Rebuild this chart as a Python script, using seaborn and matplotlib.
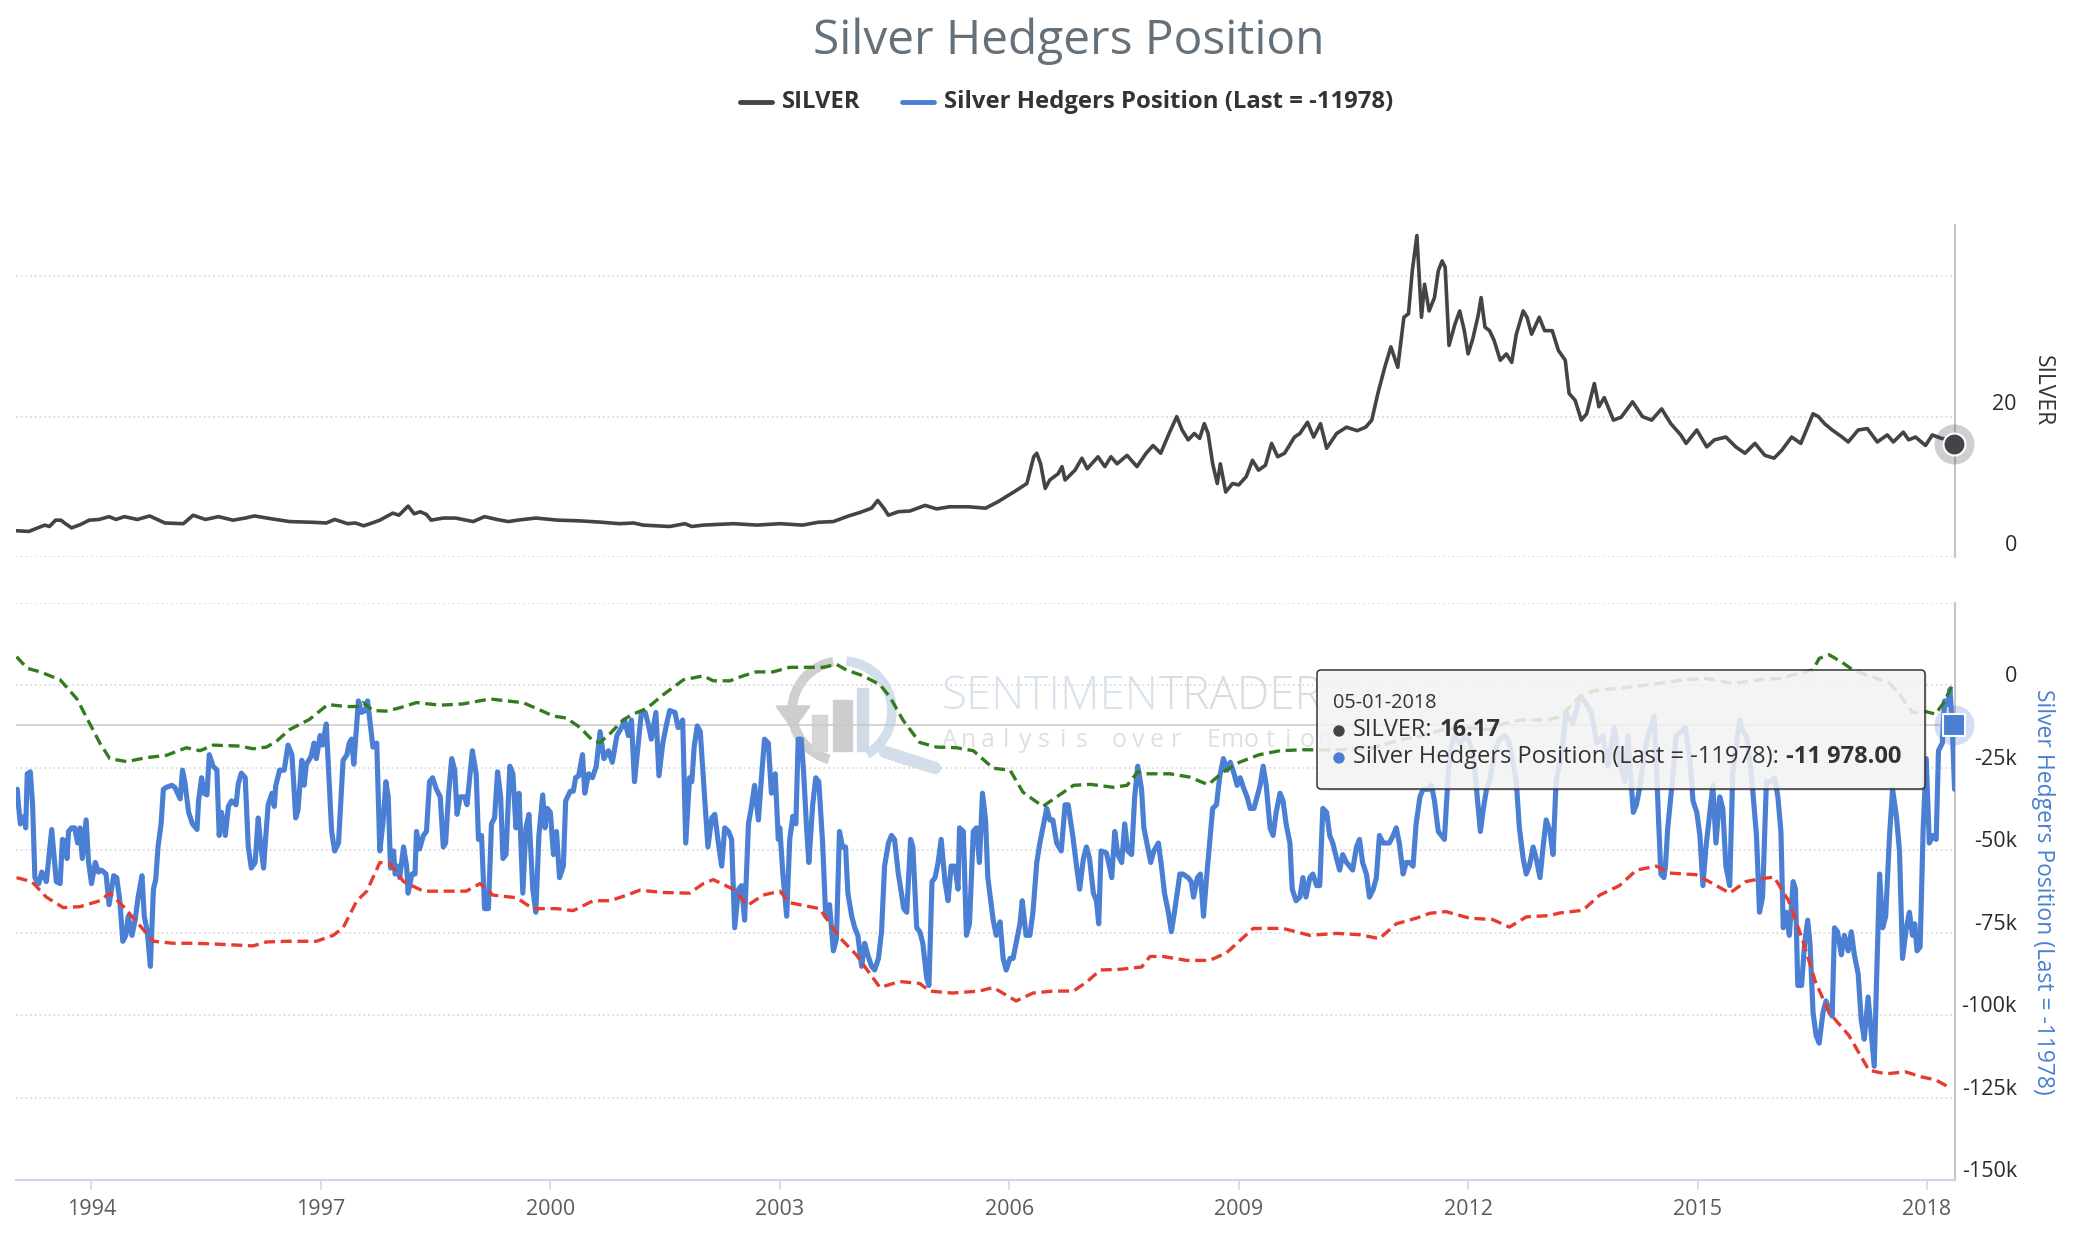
import matplotlib
matplotlib.use("Agg")
import matplotlib.pyplot as plt
import seaborn as sns
import pandas as pd
from matplotlib.transforms import IdentityTransform, ScaledTranslation
from matplotlib.patches import FancyBboxPatch, Circle, Rectangle, Arc, Polygon
from matplotlib.lines import Line2D

# ---------------- data ----------------
silver_years = [1993.01, 1993.18, 1993.39, 1993.45, 1993.53, 1993.60, 1993.66, 1993.74, 1993.86, 1993.97,
                1994.10, 1994.23, 1994.32, 1994.43, 1994.60, 1994.76, 1994.96, 1995.20, 1995.33, 1995.49,
                1995.66, 1995.85, 1996.01, 1996.13, 1996.35, 1996.59, 1996.89, 1997.07, 1997.18, 1997.35,
                1997.45, 1997.56, 1997.67, 1997.77, 1997.94, 1998.02, 1998.14, 1998.22, 1998.30, 1998.38,
                1998.44, 1998.60, 1998.76, 1998.99, 1999.14, 1999.30, 1999.45, 1999.57, 1999.81, 2000.10,
                2000.39, 2000.68, 2000.90, 2001.09, 2001.21, 2001.38, 2001.56, 2001.76, 2001.85, 2002.00,
                2002.40, 2002.70, 2003.00, 2003.30, 2003.50, 2003.70, 2003.90, 2004.05, 2004.20, 2004.28,
                2004.36, 2004.42, 2004.55, 2004.70, 2004.90, 2005.05, 2005.22, 2005.47, 2005.69, 2005.85,
                2006.06, 2006.23, 2006.32, 2006.36, 2006.41, 2006.47, 2006.53, 2006.64, 2006.69, 2006.73,
                2006.86, 2006.95, 2007.02, 2007.16, 2007.25, 2007.33, 2007.41, 2007.54, 2007.67, 2007.79,
                2007.88, 2007.98, 2008.09, 2008.19, 2008.26, 2008.34, 2008.42, 2008.49, 2008.55, 2008.60,
                2008.66, 2008.72, 2008.76, 2008.83, 2008.92, 2009.00, 2009.10, 2009.18, 2009.26, 2009.35,
                2009.43, 2009.51, 2009.60, 2009.73, 2009.80, 2009.90, 2009.98, 2010.07, 2010.15, 2010.28,
                2010.41, 2010.55, 2010.66, 2010.74, 2010.82, 2010.91, 2010.99, 2011.08, 2011.16, 2011.22,
                2011.27, 2011.33, 2011.39, 2011.43, 2011.49, 2011.56, 2011.61, 2011.66, 2011.70, 2011.75,
                2011.83, 2011.89, 2011.95, 2012.00, 2012.06, 2012.13, 2012.17, 2012.22, 2012.28, 2012.34,
                2012.42, 2012.50, 2012.57, 2012.63, 2012.72, 2012.77, 2012.83, 2012.93, 2013.00, 2013.10,
                2013.18, 2013.27, 2013.32, 2013.40, 2013.48, 2013.55, 2013.65, 2013.71, 2013.78, 2013.90,
                2014.00, 2014.15, 2014.28, 2014.40, 2014.53, 2014.65, 2014.78, 2014.85, 2014.99, 2015.12,
                2015.22, 2015.37, 2015.50, 2015.62, 2015.75, 2015.88, 2016.00, 2016.10, 2016.23, 2016.35,
                2016.51, 2016.58, 2016.66, 2016.76, 2016.89, 2016.97, 2017.10, 2017.22, 2017.35, 2017.48,
                2017.56, 2017.69, 2017.76, 2017.85, 2017.98, 2018.07, 2018.19, 2018.32, 2018.35]
silver_price = [3.8, 3.7, 4.6, 4.4, 5.3, 5.3, 4.8, 4.2, 4.7, 5.3,
                5.4, 5.8, 5.4, 5.8, 5.4, 5.9, 4.9, 4.8, 6.0, 5.4,
                5.8, 5.3, 5.6, 5.9, 5.5, 5.1, 5.0, 4.9, 5.4, 4.8,
                4.9, 4.5, 4.9, 5.3, 6.3, 6.0, 7.3, 6.2, 6.5, 6.1,
                5.3, 5.6, 5.6, 5.1, 5.8, 5.4, 5.1, 5.3, 5.6, 5.3,
                5.2, 5.0, 4.8, 4.9, 4.6, 4.5, 4.4, 4.8, 4.4, 4.6,
                4.8, 4.6, 4.8, 4.6, 5.0, 5.1, 5.9, 6.4, 7.0, 8.1,
                7.0, 6.0, 6.5, 6.6, 7.4, 6.9, 7.2, 7.2, 7.0, 7.9,
                9.3, 10.5, 14.3, 14.8, 13.3, 9.8, 11.0, 11.9, 12.9, 11.0,
                12.4, 14.1, 12.6, 14.3, 12.9, 14.3, 13.3, 14.5, 12.9, 14.8,
                15.9, 14.8, 17.6, 20.0, 18.1, 16.7, 17.6, 16.9, 19.0, 17.6,
                13.3, 10.5, 13.3, 9.3, 10.5, 10.3, 11.5, 13.8, 12.4, 13.1,
                16.2, 14.3, 14.8, 17.1, 17.6, 19.2, 17.1, 19.0, 15.5, 17.6,
                18.5, 18.0, 18.5, 19.5, 23.3, 27.0, 29.9, 27.0, 34.1, 34.6,
                40.7, 45.7, 34.1, 38.8, 35.0, 36.9, 40.7, 42.1, 41.2, 30.1,
                33.2, 35.0, 32.2, 28.9, 31.0, 34.3, 36.9, 32.7, 32.2, 30.8,
                28.0, 28.9, 27.7, 31.7, 35.0, 34.1, 31.7, 34.1, 32.2, 32.2,
                29.4, 28.0, 23.3, 22.3, 19.5, 20.4, 24.7, 21.4, 22.7, 19.5,
                19.9, 22.1, 20.0, 19.5, 21.1, 19.0, 17.4, 16.2, 18.1, 15.7,
                16.7, 17.1, 15.7, 14.8, 16.2, 14.5, 14.1, 15.2, 17.1, 16.2,
                20.4, 20.0, 19.0, 18.1, 17.1, 16.4, 18.1, 18.3, 16.4, 17.4,
                16.4, 17.8, 16.7, 17.1, 15.9, 17.4, 16.9, 16.7, 16.2]

hedger_years = [1993.03, 1993.04, 1993.07, 1993.12, 1993.14, 1993.16, 1993.20, 1993.23, 1993.26, 1993.31,
                1993.35, 1993.41, 1993.48, 1993.54, 1993.59, 1993.62, 1993.65, 1993.68, 1993.70, 1993.74,
                1993.78, 1993.82, 1993.85, 1993.88, 1993.93, 1993.96, 1994.00, 1994.05, 1994.09, 1994.13,
                1994.19, 1994.23, 1994.29, 1994.33, 1994.37, 1994.41, 1994.45, 1994.48, 1994.53, 1994.57,
                1994.61, 1994.66, 1994.69, 1994.73, 1994.77, 1994.81, 1994.84, 1994.87, 1994.91, 1994.94,
                1994.98, 1995.05, 1995.09, 1995.16, 1995.19, 1995.22, 1995.27, 1995.32, 1995.38, 1995.40,
                1995.44, 1995.47, 1995.51, 1995.54, 1995.59, 1995.64, 1995.67, 1995.70, 1995.75, 1995.79,
                1995.83, 1995.89, 1995.92, 1995.96, 1996.01, 1996.05, 1996.09, 1996.14, 1996.18, 1996.21,
                1996.25, 1996.28, 1996.31, 1996.36, 1996.39, 1996.41, 1996.46, 1996.52, 1996.57, 1996.62,
                1996.64, 1996.67, 1996.70, 1996.75, 1996.78, 1996.81, 1996.87, 1996.91, 1996.94, 1996.99,
                1997.02, 1997.07, 1997.10, 1997.14, 1997.18, 1997.23, 1997.26, 1997.29, 1997.34, 1997.37,
                1997.40, 1997.43, 1997.49, 1997.53, 1997.58, 1997.61, 1997.65, 1997.68, 1997.73, 1997.77,
                1997.81, 1997.85, 1997.88, 1997.91, 1997.95, 1997.97, 1998.01, 1998.03, 1998.08, 1998.12,
                1998.14, 1998.19, 1998.23, 1998.25, 1998.29, 1998.34, 1998.38, 1998.42, 1998.46, 1998.51,
                1998.56, 1998.60, 1998.63, 1998.67, 1998.71, 1998.75, 1998.78, 1998.82, 1998.88, 1998.91,
                1998.95, 1998.98, 1999.03, 1999.06, 1999.10, 1999.14, 1999.19, 1999.23, 1999.27, 1999.31,
                1999.35, 1999.38, 1999.42, 1999.47, 1999.51, 1999.55, 1999.59, 1999.64, 1999.68, 1999.72,
                1999.77, 1999.81, 1999.85, 1999.90, 1999.93, 1999.96, 2000.00, 2000.04, 2000.08, 2000.12,
                2000.17, 2000.20, 2000.26, 2000.30, 2000.33, 2000.37, 2000.42, 2000.45, 2000.50, 2000.55,
                2000.60, 2000.65, 2000.70, 2000.76, 2000.81, 2000.87, 2000.93, 2000.97, 2001.02, 2001.06,
                2001.10, 2001.15, 2001.19, 2001.24, 2001.28, 2001.32, 2001.38, 2001.42, 2001.47, 2001.52,
                2001.56, 2001.63, 2001.67, 2001.73, 2001.77, 2001.82, 2001.85, 2001.88, 2001.92, 2001.96,
                2002.02, 2002.06, 2002.11, 2002.15, 2002.19, 2002.24, 2002.28, 2002.33, 2002.37, 2002.41,
                2002.46, 2002.50, 2002.54, 2002.59, 2002.63, 2002.67, 2002.72, 2002.76, 2002.80, 2002.85,
                2002.89, 2002.94, 2002.98, 2003.00, 2003.04, 2003.09, 2003.13, 2003.17, 2003.21, 2003.24,
                2003.28, 2003.31, 2003.35, 2003.38, 2003.43, 2003.47, 2003.51, 2003.56, 2003.60, 2003.65,
                2003.70, 2003.74, 2003.78, 2003.82, 2003.86, 2003.89, 2003.94, 2003.98, 2004.02, 2004.07,
                2004.11, 2004.15, 2004.20, 2004.24, 2004.29, 2004.33, 2004.37, 2004.42, 2004.46, 2004.50,
                2004.55, 2004.59, 2004.62, 2004.66, 2004.71, 2004.74, 2004.79, 2004.83, 2004.87, 2004.92,
                2004.95, 2004.99, 2005.03, 2005.07, 2005.11, 2005.16, 2005.20, 2005.24, 2005.29, 2005.33,
                2005.35, 2005.40, 2005.44, 2005.48, 2005.53, 2005.57, 2005.61, 2005.65, 2005.69, 2005.72,
                2005.79, 2005.83, 2005.88, 2005.92, 2005.96, 2006.01, 2006.05, 2006.09, 2006.14, 2006.17,
                2006.22, 2006.27, 2006.31, 2006.36, 2006.40, 2006.44, 2006.49, 2006.53, 2006.57, 2006.62,
                2006.68, 2006.73, 2006.77, 2006.83, 2006.88, 2006.92, 2006.97, 2007.01, 2007.05, 2007.10,
                2007.14, 2007.17, 2007.20, 2007.27, 2007.31, 2007.34, 2007.38, 2007.42, 2007.47, 2007.51,
                2007.55, 2007.60, 2007.64, 2007.68, 2007.73, 2007.76, 2007.80, 2007.85, 2007.89, 2007.95,
                2007.99, 2008.03, 2008.08, 2008.12, 2008.16, 2008.21, 2008.23, 2008.27, 2008.34, 2008.38,
                2008.41, 2008.46, 2008.50, 2008.54, 2008.58, 2008.62, 2008.66, 2008.71, 2008.75, 2008.80,
                2008.85, 2008.89, 2008.94, 2008.98, 2009.02, 2009.07, 2009.11, 2009.15, 2009.20, 2009.24,
                2009.28, 2009.32, 2009.36, 2009.41, 2009.45, 2009.49, 2009.54, 2009.58, 2009.62, 2009.67,
                2009.70, 2009.75, 2009.80, 2009.84, 2009.88, 2009.93, 2009.97, 2010.02, 2010.06, 2010.10,
                2010.15, 2010.19, 2010.23, 2010.28, 2010.32, 2010.36, 2010.41, 2010.45, 2010.49, 2010.54,
                2010.58, 2010.62, 2010.67, 2010.71, 2010.76, 2010.80, 2010.84, 2010.89, 2010.93, 2010.97,
                2011.02, 2011.06, 2011.10, 2011.15, 2011.19, 2011.23, 2011.28, 2011.32, 2011.37, 2011.41,
                2011.48, 2011.52, 2011.56, 2011.61, 2011.65, 2011.69, 2011.74, 2011.78, 2011.82, 2011.89,
                2011.98, 2012.06, 2012.11, 2012.16, 2012.20, 2012.24, 2012.28, 2012.35, 2012.41, 2012.48,
                2012.54, 2012.63, 2012.67, 2012.72, 2012.76, 2012.80, 2012.85, 2012.89, 2012.94, 2012.98,
                2013.02, 2013.07, 2013.11, 2013.15, 2013.20, 2013.24, 2013.28, 2013.37, 2013.46, 2013.52,
                2013.61, 2013.68, 2013.76, 2013.83, 2013.91, 2013.98, 2014.05, 2014.09, 2014.13, 2014.16,
                2014.20, 2014.24, 2014.31, 2014.37, 2014.43, 2014.46, 2014.49, 2014.52, 2014.56, 2014.58,
                2014.61, 2014.64, 2014.68, 2014.72, 2014.79, 2014.84, 2014.90, 2014.94, 2014.99, 2015.03,
                2015.07, 2015.11, 2015.16, 2015.20, 2015.24, 2015.29, 2015.33, 2015.37, 2015.42, 2015.46,
                2015.51, 2015.55, 2015.59, 2015.64, 2015.68, 2015.72, 2015.77, 2015.81, 2015.85, 2015.90,
                2015.95, 2016.01, 2016.05, 2016.09, 2016.12, 2016.16, 2016.20, 2016.25, 2016.28, 2016.31,
                2016.36, 2016.40, 2016.44, 2016.47, 2016.51, 2016.55, 2016.59, 2016.64, 2016.68, 2016.73,
                2016.76, 2016.79, 2016.83, 2016.88, 2016.92, 2016.97, 2017.01, 2017.05, 2017.10, 2017.14,
                2017.18, 2017.23, 2017.27, 2017.31, 2017.34, 2017.38, 2017.42, 2017.46, 2017.51, 2017.55,
                2017.60, 2017.64, 2017.68, 2017.73, 2017.77, 2017.81, 2017.84, 2017.87, 2017.91, 2017.95,
                2017.99, 2018.03, 2018.08, 2018.12, 2018.15, 2018.20, 2018.23, 2018.27, 2018.30, 2018.33,
                2018.36]
hedger_k = [-31.5, -35.0, -42.0, -39.7, -43.2, -26.8, -26.2, -36.2, -58.3, -60.1,
            -56.6, -59.5, -43.7, -59.5, -60.1, -46.7, -47.2, -52.5, -44.3, -43.2,
            -43.2, -47.8, -43.2, -52.5, -40.8, -53.1, -60.1, -53.7, -56.6, -56.0,
            -57.2, -66.5, -57.7, -58.3, -65.3, -77.6, -75.8, -70.0, -75.8, -71.2,
            -64.2, -57.7, -70.0, -74.7, -85.2, -61.8, -58.9, -49.0, -42.0, -31.5,
            -30.9, -30.3, -30.9, -34.4, -25.7, -29.2, -38.5, -42.0, -43.7, -35.0,
            -28.0, -32.7, -33.2, -21.0, -24.5, -25.7, -45.5, -38.5, -45.5, -36.7,
            -35.0, -36.2, -29.7, -26.6, -28.0, -49.0, -55.4, -53.7, -40.2, -47.8,
            -55.4, -45.5, -36.2, -32.7, -36.7, -30.3, -25.7, -25.7, -18.1, -21.0,
            -28.0, -40.2, -37.9, -22.7, -30.3, -23.9, -21.6, -17.5, -22.2, -15.2,
            -18.1, -11.7, -25.7, -44.3, -50.2, -47.8, -35.0, -22.7, -21.0, -17.5,
            -16.3, -23.9, -4.7, -8.2, -7.6, -4.7, -12.8, -18.7, -17.5, -50.2,
            -42.0, -29.2, -33.8, -55.4, -50.2, -57.2, -54.8, -58.3, -49.0, -54.8,
            -63.0, -57.2, -57.2, -44.3, -49.6, -45.5, -44.3, -29.2, -28.0, -31.5,
            -33.8, -49.0, -47.8, -32.7, -22.2, -25.7, -39.1, -33.8, -33.8, -36.2,
            -26.8, -19.8, -26.8, -46.7, -45.5, -67.7, -67.7, -42.0, -40.2, -26.2,
            -33.8, -52.5, -51.3, -24.5, -26.8, -43.2, -32.7, -63.0, -43.2, -39.1,
            -61.8, -68.8, -45.5, -33.2, -43.2, -37.3, -38.5, -51.3, -44.3, -58.3,
            -54.8, -35.0, -32.1, -32.1, -28.0, -27.4, -21.0, -32.7, -26.8, -28.0,
            -24.5, -14.0, -22.2, -19.8, -23.3, -15.2, -12.8, -10.5, -15.2, -10.5,
            -29.2, -17.5, -8.2, -8.2, -11.7, -16.3, -8.2, -27.4, -17.5, -11.7,
            -7.6, -8.2, -12.8, -10.5, -47.8, -28.0, -29.2, -18.7, -12.3, -14.0,
            -35.0, -49.0, -40.2, -39.1, -46.7, -54.8, -43.2, -44.3, -46.7, -73.5,
            -61.8, -60.7, -71.2, -42.0, -36.7, -30.3, -40.8, -28.0, -16.3, -17.5,
            -32.7, -26.8, -46.7, -43.2, -57.2, -70.0, -46.7, -39.7, -42.0, -16.3,
            -16.3, -25.7, -43.2, -53.7, -36.2, -28.0, -29.2, -47.8, -70.0, -66.5,
            -80.5, -77.0, -44.3, -49.0, -49.0, -63.0, -70.0, -73.5, -75.8, -85.2,
            -78.2, -81.7, -85.2, -86.3, -82.8, -74.7, -54.8, -47.8, -45.5, -46.7,
            -57.2, -63.0, -67.7, -68.8, -46.7, -49.0, -73.5, -74.7, -78.2, -88.7,
            -91.0, -59.5, -58.3, -53.7, -46.7, -59.5, -65.3, -54.8, -54.8, -61.8,
            -43.2, -44.3, -75.8, -72.3, -44.3, -43.2, -53.7, -32.7, -40.8, -58.3,
            -71.2, -75.8, -71.7, -82.8, -86.3, -82.8, -82.8, -78.2, -72.3, -65.3,
            -75.8, -75.8, -68.8, -53.7, -47.8, -43.2, -37.3, -40.8, -40.8, -47.8,
            -50.2, -36.2, -36.2, -45.5, -54.8, -61.8, -52.5, -49.0, -52.5, -63.0,
            -65.3, -72.3, -50.2, -50.8, -54.8, -58.3, -44.3, -51.3, -53.7, -42.0,
            -50.2, -51.3, -33.8, -24.5, -31.5, -43.2, -47.8, -53.7, -50.2, -47.8,
            -54.8, -63.0, -68.8, -74.7, -68.8, -60.7, -57.2, -57.2, -58.3, -59.5,
            -64.2, -58.3, -57.2, -70.0, -58.3, -47.8, -37.3, -36.2, -28.0, -22.2,
            -25.7, -23.3, -26.8, -30.3, -28.0, -31.5, -33.8, -37.3, -37.3, -33.8,
            -30.3, -24.5, -30.3, -43.2, -45.5, -38.5, -32.7, -35.0, -42.0, -47.8,
            -61.8, -65.3, -64.2, -58.3, -64.2, -58.3, -57.2, -60.7, -60.7, -37.3,
            -38.5, -45.5, -47.8, -52.5, -56.0, -51.3, -53.7, -54.8, -56.0, -49.0,
            -46.7, -53.7, -57.2, -64.2, -61.8, -58.3, -45.5, -47.8, -47.8, -47.8,
            -45.5, -43.2, -47.8, -57.2, -53.7, -53.7, -54.8, -42.0, -33.8, -31.5,
            -31.5, -30.3, -35.0, -44.3, -45.5, -46.7, -26.8, -18.7, -15.2, -17.5,
            -15.2, -19.8, -31.5, -44.3, -37.3, -31.5, -29.2, -19.8, -16.3, -15.2,
            -17.5, -29.2, -43.2, -52.5, -57.2, -54.8, -49.0, -52.5, -58.3, -49.0,
            -40.8, -44.3, -51.3, -29.2, -23.3, -17.5, -8.2, -11.7, -3.5, -4.7,
            -8.2, -17.5, -15.2, -24.5, -12.8, -23.3, -29.2, -15.2, -29.2, -38.5,
            -36.2, -31.5, -19.8, -14.0, -9.3, -23.3, -40.8, -57.2, -58.3, -54.8,
            -43.2, -36.2, -26.8, -15.2, -14.0, -12.8, -22.2, -35.0, -38.5, -45.5,
            -60.7, -49.0, -38.5, -30.3, -47.8, -33.8, -37.3, -54.8, -60.7, -26.8,
            -17.5, -10.5, -14.0, -15.2, -22.2, -31.5, -45.5, -68.8, -64.2, -29.2,
            -29.2, -28.0, -33.8, -44.3, -73.5, -68.8, -75.8, -59.5, -61.8, -91.0,
            -91.0, -78.2, -71.2, -78.2, -99.2, -106.2, -108.5, -99.2, -95.7, -99.2,
            -100.3, -73.5, -74.7, -81.7, -75.8, -80.5, -74.7, -81.7, -87.5, -101.5,
            -107.3, -94.5, -105.0, -115.5, -89.8, -57.2, -73.5, -70.0, -45.5, -31.5,
            -39.7, -50.2, -82.8, -73.5, -68.8, -75.8, -72.3, -80.5, -79.3, -43.2,
            -22.2, -47.8, -45.5, -46.7, -19.8, -17.5, -4.7, -5.8, -1.2, -12.0,
            -31.5]

upper_years = [1993.02, 1993.16, 1993.33, 1993.59, 1993.81, 1993.98, 1994.11, 1994.24, 1994.46, 1994.72,
               1994.98, 1995.24, 1995.42, 1995.59, 1995.94, 1996.11, 1996.29, 1996.42, 1996.59, 1996.85,
               1997.09, 1997.33, 1997.50, 1997.55, 1997.68, 1997.85, 1998.03, 1998.25, 1998.56, 1998.86,
               1999.21, 1999.51, 1999.64, 1999.82, 2000.04, 2000.21, 2000.39, 2000.56, 2000.65, 2000.78,
               2000.95, 2001.08, 2001.26, 2001.47, 2001.74, 2002.00, 2002.13, 2002.35, 2002.52, 2002.69,
               2002.91, 2003.13, 2003.57, 2003.74, 2003.87, 2004.09, 2004.31, 2004.44, 2004.61, 2004.83,
               2005.05, 2005.31, 2005.53, 2005.79, 2006.01, 2006.18, 2006.44, 2006.62, 2006.84, 2007.06,
               2007.36, 2007.54, 2007.68, 2007.79, 2008.10, 2008.36, 2008.60, 2008.80, 2009.01, 2009.27,
               2009.54, 2009.84, 2010.20, 2010.71, 2011.15, 2011.41, 2011.67, 2011.98, 2012.28, 2012.45,
               2012.68, 2013.03, 2013.20, 2013.46, 2013.63, 2014.07, 2014.50, 2014.81, 2015.11, 2015.46,
               2015.81, 2016.07, 2016.33, 2016.51, 2016.59, 2016.72, 2016.89, 2017.03, 2017.24, 2017.50,
               2017.63, 2017.81, 2017.98, 2018.11, 2018.22, 2018.33]
upper_k = [8.7, 5.2, 4.1, 1.7, -4.1, -11.7, -17.5, -22.2, -23.1, -21.9,
           -21.2, -18.9, -19.8, -18.1, -18.4, -19.2, -18.7, -16.9, -13.4, -10.3,
           -5.8, -6.4, -6.4, -5.2, -7.6, -7.8, -6.8, -5.2, -6.0, -5.6,
           -4.1, -4.9, -5.2, -7.0, -9.3, -9.9, -12.8, -16.9, -17.3, -14.6,
           -10.5, -8.7, -7.0, -2.9, 1.7, 2.9, 1.4, 1.4, 2.9, 4.1,
           4.1, 5.5, 5.5, 6.4, 4.7, 2.9, 0.2, -3.5, -10.5, -17.3,
           -18.7, -18.9, -19.8, -25.1, -25.7, -32.4, -36.7, -33.8, -30.3, -30.0,
           -30.9, -30.3, -26.2, -26.8, -26.8, -27.8, -30.1, -26.2, -23.3, -21.0,
           -19.8, -19.5, -19.6, -19.1, -16.3, -15.2, -13.4, -12.8, -13.4, -11.7,
           -10.5, -10.5, -9.5, -3.5, -1.7, -0.6, 0.6, 1.7, 2.1, 0.6,
           1.7, 2.1, 3.7, 4.7, 8.2, 9.3, 7.0, 4.7, 2.9, 0.9,
           -2.3, -8.2, -7.9, -8.7, -5.2, 0.0]

lower_years = [1993.02, 1993.22, 1993.41, 1993.63, 1993.85, 1994.11, 1994.24, 1994.42, 1994.59, 1994.81,
               1995.07, 1995.33, 1995.59, 1995.85, 1996.11, 1996.29, 1996.55, 1996.94, 1997.16, 1997.29,
               1997.47, 1997.60, 1997.77, 1997.90, 1998.08, 1998.34, 1998.56, 1998.90, 1999.08, 1999.25,
               1999.56, 1999.77, 2000.08, 2000.30, 2000.56, 2000.78, 2001.00, 2001.17, 2001.47, 2001.82,
               2002.00, 2002.13, 2002.39, 2002.58, 2002.78, 2003.00, 2003.13, 2003.52, 2003.78, 2004.00,
               2004.18, 2004.31, 2004.57, 2004.83, 2004.96, 2005.26, 2005.61, 2005.79, 2006.09, 2006.31,
               2006.57, 2006.84, 2007.02, 2007.19, 2007.45, 2007.73, 2007.84, 2008.01, 2008.32, 2008.62,
               2008.84, 2009.19, 2009.58, 2009.93, 2010.28, 2010.58, 2010.84, 2011.06, 2011.32, 2011.50,
               2011.71, 2012.02, 2012.32, 2012.54, 2012.76, 2013.06, 2013.20, 2013.50, 2013.72, 2013.98,
               2014.20, 2014.46, 2014.63, 2014.98, 2015.20, 2015.42, 2015.63, 2015.76, 2016.00, 2016.19,
               2016.37, 2016.54, 2016.72, 2016.98, 2017.24, 2017.46, 2017.72, 2017.94, 2018.11, 2018.29]
lower_k = [-58.3, -59.5, -64.2, -67.4, -67.1, -65.3, -63.0, -67.1, -71.7, -77.6,
           -78.2, -78.2, -78.4, -78.7, -79.0, -77.8, -77.6, -77.6, -75.8, -73.5,
           -65.3, -62.4, -53.7, -54.0, -59.5, -62.4, -62.4, -62.4, -60.1, -63.6,
           -64.4, -67.7, -67.7, -68.3, -65.3, -65.3, -63.6, -62.1, -62.8, -63.0,
           -60.1, -58.9, -61.8, -66.7, -63.6, -62.4, -65.9, -67.7, -76.4, -81.7,
           -87.5, -91.6, -89.8, -90.4, -92.7, -93.3, -92.7, -91.6, -95.7, -93.3,
           -92.7, -92.7, -89.8, -86.3, -86.1, -85.4, -82.2, -82.2, -83.4, -83.4,
           -81.1, -73.7, -73.7, -75.8, -75.2, -75.6, -76.8, -72.3, -70.6, -69.1,
           -68.6, -70.6, -71.0, -73.3, -70.2, -69.8, -69.0, -68.2, -63.6, -60.7,
           -56.0, -54.8, -56.9, -57.4, -60.1, -63.0, -59.5, -58.9, -58.1, -65.3,
           -77.0, -89.8, -99.2, -106.2, -116.7, -117.8, -117.2, -118.8, -119.6, -121.9]

year_ticks = [1994, 1997, 2000, 2003, 2006, 2009, 2012, 2015, 2018]
silver_ticks = [0, 20, 40]
silver_tick_labels = ["0", "20", ""]
hedger_ticks = [-150, -125, -100, -75, -50, -25, 0, 25]
hedger_tick_labels = ["-150k", "-125k", "-100k", "-75k", "-50k", "-25k", "0", ""]

last_date_label = "05-01-2018"
last_year = 2018.35
last_silver = 16.17
last_hedger_k = -11.978

# ---------------- styling ----------------
W, H, DPI = 2079, 1234, 100
SILVER_C = "#434348"
BLUE_C = "#4a7fd4"
GREEN_C = "#347b1f"
RED_C = "#e63b2e"
GRID_C = "#dcdcdc"

sns.set_theme(style="white")
plt.rcParams["font.family"] = ["Open Sans", "DejaVu Sans"]
plt.rcParams["axes.unicode_minus"] = False

fig = plt.figure(figsize=(W / DPI, H / DPI), dpi=DPI)
fig.patch.set_facecolor("white")
ident = IdentityTransform()


def P(x, y):
    return (x, H - y)


L, R = 16, 1955
ax_top = fig.add_axes([L / W, 1 - 557.5 / H, (R - L) / W, (557.5 - 225) / H])
ax_bot = fig.add_axes([L / W, 1 - 1180 / H, (R - L) / W, (1180 - 603) / H])

silver_df = pd.DataFrame({"year": silver_years, "price": silver_price})
hedger_df = pd.DataFrame({"year": hedger_years, "k": hedger_k})
upper_df = pd.DataFrame({"year": upper_years, "k": upper_k})
lower_df = pd.DataFrame({"year": lower_years, "k": lower_k})

sns.lineplot(data=silver_df, x="year", y="price", ax=ax_top, color=SILVER_C, linewidth=2.6,
             estimator=None, sort=False, solid_joinstyle="round", zorder=3)
sns.lineplot(data=hedger_df, x="year", y="k", ax=ax_bot, color=BLUE_C, linewidth=3.7,
             estimator=None, sort=False, solid_joinstyle="round", zorder=3)
sns.lineplot(data=upper_df, x="year", y="k", ax=ax_bot, color=GREEN_C, linewidth=2.4,
             estimator=None, sort=False, zorder=4)
ax_bot.lines[-1].set_dashes([3.3, 1.7])
sns.lineplot(data=lower_df, x="year", y="k", ax=ax_bot, color=RED_C, linewidth=2.4,
             estimator=None, sort=False, zorder=4)
ax_bot.lines[-1].set_dashes([3.3, 1.7])

# crosshair
ax_bot.axhline(last_hedger_k, color="#c8c8c8", linewidth=1.1, zorder=2)

# last-point markers
ax_top.scatter([last_year], [last_silver], s=830, color=SILVER_C, alpha=0.25, linewidths=0,
               zorder=5, clip_on=False)
ax_top.scatter([last_year], [last_silver], s=250, color=SILVER_C, edgecolors="white",
               linewidths=1.5, zorder=6, clip_on=False)
ax_bot.scatter([last_year], [last_hedger_k], s=830, color=BLUE_C, alpha=0.25, linewidths=0,
               zorder=5, clip_on=False)
ax_bot.scatter([last_year], [last_hedger_k], s=240, marker="s", color=BLUE_C, edgecolors="white",
               linewidths=1.5, zorder=6, clip_on=False)

XMIN, XMAX = 1993.013, 2018.366
for ax in (ax_top, ax_bot):
    ax.set_facecolor("none")
    ax.set_xlim(XMIN, XMAX)
    ax.set_xlabel("")
    ax.set_ylabel("")
    ax.set_axisbelow(True)
    ax.yaxis.tick_right()
    ax.grid(False)
    ax.yaxis.grid(True, color=GRID_C, linestyle=(0, (1, 1.6)), linewidth=1.3)
    for s in ("left", "top", "bottom"):
        ax.spines[s].set_visible(False)
    ax.spines["right"].set_visible(True)
    ax.spines["right"].set_color("#c6c6c6")
    ax.spines["right"].set_linewidth(1.5)
    ax.tick_params(axis="y", which="both", length=0, pad=44.6, labelsize=15.5,
                   labelcolor="#2b2b2b", right=True, left=False, labelright=True, labelleft=False)

ax_top.set_ylim(0, 47.2)
ax_top.set_yticks(silver_ticks)
ax_top.set_yticklabels(silver_tick_labels)
ax_top.set_xticks([])

ax_bot.set_ylim(-150, 25)
ax_bot.set_yticks(hedger_ticks)
ax_bot.set_yticklabels(hedger_tick_labels)
ax_bot.set_xticks(year_ticks)
ax_bot.set_xticklabels([str(y) for y in year_ticks])
ax_bot.spines["bottom"].set_visible(True)
ax_bot.spines["bottom"].set_color("#ccd6eb")
ax_bot.spines["bottom"].set_linewidth(1.6)
ax_bot.tick_params(axis="x", length=7, width=1.1, color="#ccd6eb", pad=6.5, labelsize=15.5,
                   labelcolor="#5c5c5c", bottom=True)

for ax, up in ((ax_top, 0.145), (ax_bot, 0.11)):
    shift = ScaledTranslation(0, up, fig.dpi_scale_trans)
    for lbl in ax.get_yticklabels():
        lbl.set_horizontalalignment("right")
        lbl.set_transform(lbl.get_transform() + shift)

# axis titles
fig.text(2043 / W, 1 - 391 / H, "SILVER", rotation=270, ha="center", va="center",
         size=16.5, color="#333333")
fig.text(2043 / W, 1 - 892 / H, "Silver Hedgers Position (Last = -11978)", rotation=270,
         ha="center", va="center", size=16.5, color=BLUE_C)

# title
fig.text(1069 / W, 1 - 41 / H, "Silver Hedgers Position", ha="center", va="center",
         size=34.5, color="#64707a")

# legend
LEG_Y = 102
fig.add_artist(Line2D([740, 772], [H - LEG_Y, H - LEG_Y], transform=ident, color=SILVER_C, lw=3.5))
fig.text(*P(782, LEG_Y), "SILVER", transform=ident, ha="left", va="center", size=17.2,
         weight="bold", color="#333333")
fig.add_artist(Line2D([902, 934], [H - LEG_Y, H - LEG_Y], transform=ident, color=BLUE_C, lw=3.5))
fig.text(*P(944, LEG_Y), "Silver Hedgers Position (Last = -11978)", transform=ident, ha="left",
         va="center", size=17.2, weight="bold", color="#333333")

# watermark (behind the chart)
wm_z = -1
fig.add_artist(Arc(P(842, 711), 100, 100, theta1=100, theta2=255, transform=ident,
                   color="#cfcfcf", lw=7, zorder=wm_z))
fig.add_artist(Arc(P(842, 711), 100, 100, theta1=-60, theta2=85, transform=ident,
                   color="#d2deea", lw=7, zorder=wm_z))
fig.add_artist(Polygon([P(776, 706), P(810, 706), P(793, 730)], closed=True, transform=ident,
                       color="#cdcdcd", zorder=wm_z))
fig.add_artist(Rectangle(P(812, 751), 15, 36, transform=ident, color="#d6d6d6", zorder=wm_z))
fig.add_artist(Rectangle(P(833, 751), 19, 51, transform=ident, color="#cdcdcd", zorder=wm_z))
fig.add_artist(Rectangle(P(857, 751), 11, 63, transform=ident, color="#d0dbe8", zorder=wm_z))
fig.add_artist(Line2D([885, 935], [H - 752, H - 768], transform=ident, color="#d3deea", lw=9,
                      solid_capstyle="round", zorder=wm_z))
t_sent = fig.text(*P(942, 709), "SENTIMEN", transform=ident, ha="left", va="baseline", size=33,
                  color="#d8e2ec", weight="light", zorder=wm_z)
for i, ch in enumerate("Analysis over Emotion"):
    fig.text(*P(950 + i * 18.8, 747), ch, transform=ident, ha="center", va="baseline", size=18,
             color="#e0e0e0", zorder=wm_z)

# tooltip
fig.add_artist(FancyBboxPatch((1319, H - 791), 608, 119,
                              boxstyle="round,pad=0,rounding_size=4", transform=ident,
                              fc=(0, 0, 0, 0.10), ec="none", zorder=9))
fig.add_artist(FancyBboxPatch((1317, H - 789), 608, 119,
                              boxstyle="round,pad=0,rounding_size=4", transform=ident,
                              fc=(0.97, 0.97, 0.97, 0.86), ec="#333333", lw=1.1, zorder=10))
fig.text(*P(1333, 703), last_date_label, transform=ident, ha="left", va="center", size=14.3,
         color="#333333", zorder=11)
fig.add_artist(Circle(P(1339, 731), 5, transform=ident, color=SILVER_C, zorder=11))
t1 = fig.text(*P(1353, 730), "SILVER:", transform=ident, ha="left", va="center", size=17,
              color="#333333", zorder=11)
fig.add_artist(Circle(P(1339, 758), 5, transform=ident, color=BLUE_C, zorder=11))
t2 = fig.text(*P(1353, 757), "Silver Hedgers Position (Last = -11978):", transform=ident,
              ha="left", va="center", size=17, color="#333333", zorder=11)

fig.canvas.draw()
rend = fig.canvas.get_renderer()
b = t_sent.get_window_extent(renderer=rend)
fig.text(b.x1, H - 709, "TRADER", transform=ident, ha="left", va="baseline", size=33,
         color="#dcdcdc", weight="light", zorder=wm_z)
b1 = t1.get_window_extent(renderer=rend)
fig.text(b1.x1 + 7, H - 730, f"{last_silver:.2f}", transform=ident, ha="left", va="center",
         size=17, weight="bold", color="#333333", zorder=11)
b2 = t2.get_window_extent(renderer=rend)
fig.text(b2.x1 + 7, H - 757, "-11 978.00", transform=ident, ha="left", va="center",
         size=17, weight="bold", color="#333333", zorder=11)

fig.savefig("out.png", dpi=DPI, facecolor="white")
